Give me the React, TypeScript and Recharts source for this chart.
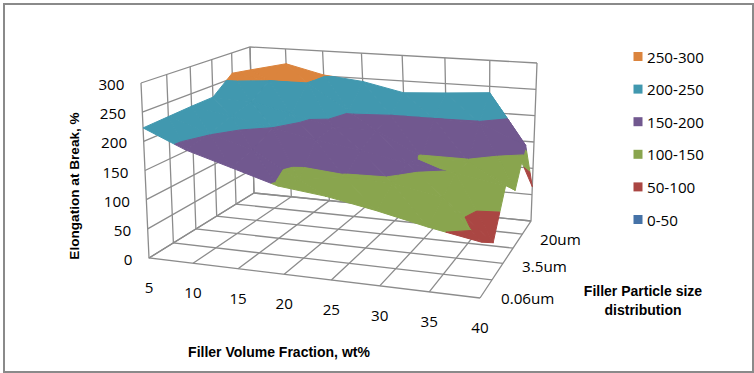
import { ScatterChart, Scatter, XAxis, YAxis, Polygon } from 'recharts';

// elongation at break, one array per particle size row, front (row 0) to back
const fractions = [5, 10, 15, 20, 25, 30, 35, 40];
const row0 = [223, 192, 170, 147, 138, 123, 105, 90];
const row1 = [225, 201, 180, 135, 147, 145, 130, 62];
const row2 = [227, 215, 200, 185, 172, 158, 148, 134];
const row3 = [228, 225, 208, 190, 190, 147, 147, 103];
const row4 = [260, 250, 249, 202, 200, 200, 198, 163];
const row5 = [253, 270, 252, 244, 227, 232, 238, 65];
const rows = [row0, row1, row2, row3, row4, row5];

const valueTicks = [0, 50, 100, 150, 200, 250, 300];
const sizeLabels = [
  { row: 1, label: '0.06um' },
  { row: 3, label: '3.5um' },
  { row: 5, label: '20um' },
];
const bandNames = ['250-300', '200-250', '150-200', '100-150', '50-100', '0-50'];
const bandColors = ['#DB843D', '#4198AF', '#71588F', '#89A54E', '#AA4643', '#4572A7'];
const bandLows = [250, 200, 150, 100, 50, 0];

const W = 754;
const H = 373;
type P = { x: number; y: number };

// the 3D box as it sits on the page: floor and top corners
const FLOOR: P[] = [{ x: 149, y: 258 }, { x: 480, y: 298 }, { x: 531, y: 221 }, { x: 254, y: 193 }];
const TOP: P[] = [{ x: 141, y: 83 }, { x: 485, y: 112 }, { x: 537, y: 63 }, { x: 250, y: 47 }];

const squareToQuad = (q: P[]) => {
  const [p0, p1, p2, p3] = q;
  const dx1 = p1.x - p2.x, dx2 = p3.x - p2.x, sx = p0.x - p1.x + p2.x - p3.x;
  const dy1 = p1.y - p2.y, dy2 = p3.y - p2.y, sy = p0.y - p1.y + p2.y - p3.y;
  const den = dx1 * dy2 - dx2 * dy1;
  const g = (sx * dy2 - dx2 * sy) / den;
  const h = (dx1 * sy - sx * dy1) / den;
  return (u: number, v: number): P => {
    const d = g * u + h * v + 1;
    return {
      x: ((p1.x - p0.x + g * p1.x) * u + (p3.x - p0.x + h * p3.x) * v + p0.x) / d,
      y: ((p1.y - p0.y + g * p1.y) * u + (p3.y - p0.y + h * p3.y) * v + p0.y) / d,
    };
  };
};
const floorAt = squareToQuad(FLOOR);
const topAt = squareToQuad(TOP);

const nCols = fractions.length - 1;
const nRows = rows.length - 1;

// c: column index, r: row index, val: elongation
const project = (c: number, r: number, val: number): P => {
  const f = floorAt(c / nCols, r / nRows);
  const t = topAt(c / nCols, r / nRows);
  const w = val / 300;
  return { x: f.x + (t.x - f.x) * w, y: f.y + (t.y - f.y) * w };
};

type V3 = [number, number, number];
const clip = (poly: V3[], level: number, keepAbove: boolean) => {
  const out: V3[] = [];
  poly.forEach((a, i) => {
    const b = poly[(i + 1) % poly.length];
    const aIn = keepAbove ? a[2] >= level : a[2] <= level;
    const bIn = keepAbove ? b[2] >= level : b[2] <= level;
    if (aIn) out.push(a);
    if (aIn !== bIn) {
      const t = (level - a[2]) / (b[2] - a[2]);
      out.push([a[0] + (b[0] - a[0]) * t, a[1] + (b[1] - a[1]) * t, level]);
    }
  });
  return out;
};

const v = (c: number, r: number): V3 => [c, r, rows[r][c]];

// back to front, left to right, so nearer cells paint over further ones
const surface: { color: string; pts: P[] }[] = [];
for (let r = nRows - 1; r >= 0; r--) {
  for (let c = 0; c < nCols; c++) {
    const tris: V3[][] = [
      [v(c, r + 1), v(c + 1, r + 1), v(c + 1, r)],
      [v(c, r), v(c + 1, r), v(c, r + 1)],
    ];
    tris.forEach((tri) => {
      bandLows.forEach((lo, b) => {
        const part = clip(clip(tri, lo, true), lo + 50, false);
        if (part.length > 2) {
          surface.push({ color: bandColors[b], pts: part.map((p) => project(p[0], p[1], p[2])) });
        }
      });
    });
  }
}

// wall and floor grid
const grid: P[][] = [];
valueTicks.forEach((t) => {
  grid.push([project(0, 0, t), project(0, nRows, t), project(nCols, nRows, t)]);
});
fractions.forEach((_, c) => {
  grid.push([project(c, 0, 0), project(c, nRows, 0), project(c, nRows, 300)]);
});
rows.forEach((_, r) => {
  grid.push([project(0, r, 300), project(0, r, 0), project(nCols, r, 0)]);
});

const shift = (p: P, dx: number, dy: number) => ({ x: p.x + dx, y: p.y + dy });

const tickFont = { fontFamily: '"Open Sans", sans-serif', fontSize: 15.2, fill: '#000' };
const titleFont = { fontFamily: '"Liberation Sans", Arial, sans-serif', fontSize: 14, fontWeight: 700, fill: '#000' };

const labels = [
  ...valueTicks.map((t) => ({ ...shift(project(0, 0, t), -16.5, 1), label: String(t), anchor: 'end', font: tickFont })),
  ...fractions.map((f, c) => ({ ...shift(project(c, 0, 0), 0, 29), label: String(f), anchor: 'middle', font: tickFont })),
  ...sizeLabels.map((s) => ({ ...shift(project(nCols, s.row, 0), 9, 18), label: s.label, anchor: 'start', font: tickFont })),
  { x: 279, y: 352, label: 'Filler Volume Fraction, wt%', anchor: 'middle', font: titleFont },
  { x: 643, y: 291, label: 'Filler Particle size', anchor: 'middle', font: titleFont },
  { x: 643, y: 310, label: 'distribution', anchor: 'middle', font: titleFont },
  ...bandNames.map((n, i) => ({ x: 647, y: 56.5 + i * 32.6, label: n, anchor: 'start', font: tickFont })),
];
const legendSwatches = bandNames.map((_, i) => ({ x: 638, y: 56.5 + i * 32.6, color: bandColors[i] }));
const yTitle = [{ x: 74, y: 186, label: 'Elongation at Break, %' }];

const noDot = () => <g />;

export default function App() {
  return (
    <div style={{ position: 'absolute', left: 0, top: 0, width: W, height: H, background: '#fff' }}>
      <div
        style={{
          position: 'absolute',
          left: 3,
          top: 3,
          width: 747,
          height: 366,
          border: '2px solid #8a8a8a',
        }}
      />
      <div style={{ position: 'absolute', left: 0, top: 0 }}>
        <ScatterChart width={W} height={H} margin={{ top: 0, right: 0, bottom: 0, left: 0 }}>
          <XAxis type="number" dataKey="x" domain={[0, W]} hide />
          <YAxis type="number" dataKey="y" domain={[0, H]} reversed hide />
          {grid.map((pts, i) => (
            <Scatter
              key={`g${i}`}
              data={pts}
              isAnimationActive={false}
              shape={noDot}
              line={{ stroke: '#8c8c8c', strokeWidth: 1.3, fill: 'none' }}
            />
          ))}
          {surface.map((poly, i) => (
            <Scatter
              key={`s${i}`}
              data={poly.pts}
              isAnimationActive={false}
              shape={noDot}
              line={(p: any) => <Polygon points={p.points} fill={poly.color} stroke={poly.color} strokeWidth={1} />}
            />
          ))}
          <Scatter
            data={legendSwatches}
            isAnimationActive={false}
            shape={(p: any) => <rect x={p.cx - 4.5} y={p.cy - 4.5} width={9} height={9} fill={p.payload.color} />}
          />
          <Scatter
            data={labels}
            isAnimationActive={false}
            shape={(p: any) => (
              <text x={p.cx} y={p.cy} textAnchor={p.payload.anchor} dominantBaseline="central" {...p.payload.font}>
                {p.payload.label}
              </text>
            )}
          />
          <Scatter
            data={yTitle}
            isAnimationActive={false}
            shape={(p: any) => (
              <text
                x={p.cx}
                y={p.cy}
                textAnchor="middle"
                dominantBaseline="central"
                transform={`rotate(-90 ${p.cx} ${p.cy})`}
                {...titleFont}
                fontSize={13.6}
              >
                {p.payload.label}
              </text>
            )}
          />
        </ScatterChart>
      </div>
    </div>
  );
}
